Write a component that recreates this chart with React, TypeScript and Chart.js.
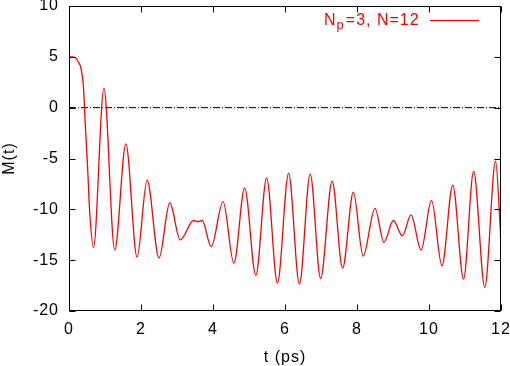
import React, { useEffect, useRef } from 'react';
import { Chart, registerables } from 'chart.js';

Chart.register(...registerables);

// ---- data ----
const times = [
  0, 0.1, 0.2, 0.26, 0.33, 0.4, 0.45, 0.52, 0.57, 0.68,
  0.97, 1.27, 1.58, 1.89, 2.17, 2.5, 2.8, 3.09, 3.46, 3.58,
  3.7, 3.95, 4.28, 4.58, 4.88, 5.19, 5.49, 5.79, 6.1, 6.4,
  6.7, 6.99, 7.31, 7.6, 7.9, 8.17, 8.5, 8.75, 9.01, 9.26,
  9.5, 9.78, 10.07, 10.36, 10.66, 10.96, 11.24, 11.55, 11.85, 11.97,
  12.0,
];
const magnetization = [
  5.0, 5.0, 4.85, 4.5, 3.9, 2.1, -1.5, -6.1, -10.0, -13.75,
  1.93, -14.0, -3.56, -14.7, -7.12, -14.8, -9.35, -13.0, -11.1, -11.2,
  -11.1, -13.66, -9.25, -15.3, -7.88, -16.5, -6.9, -17.25, -6.47, -17.35,
  -6.54, -16.8, -7.22, -15.8, -8.3, -14.6, -9.9, -13.24, -11.1, -12.6,
  -10.55, -14.0, -9.12, -15.55, -7.61, -16.86, -6.27, -17.68, -5.26, -11.3,
  -13.4,
];
const zeroLineT = [0, 12];
const zeroLineV = [0, 0];
const xTicks = [0, 2, 4, 6, 8, 10, 12];
const yTicks = [-20, -15, -10, -5, 0, 5, 10];
const legendMain = 'N';
const legendSub = 'p';
const legendRest = '=3, N=12';
const xTitle = 't (ps)';
const yTitle = 'M(t)';

const FONT = '"Liberation Sans", Arial, Helvetica, sans-serif';
const RED = '#ff0000';

const spacingPlugin = {
  id: 'letterSpacing',
  beforeDraw(chart: any) {
    chart.ctx.letterSpacing = '1px';
  },
};

const framePlugin = {
  id: 'gnuplotFrame',
  afterDatasetsDraw(chart: any) {
    const { ctx, chartArea: a, scales } = chart;
    const xs = scales.x;
    const ys = scales.y;
    const L = Math.round(a.left) + 0.5;
    const R = Math.round(a.right) - 0.5;
    const T = Math.round(a.top) + 0.5;
    const B = Math.round(a.bottom) - 0.5;
    const tl = 6;
    ctx.save();
    ctx.strokeStyle = '#000';
    ctx.lineWidth = 1;
    ctx.beginPath();
    xTicks.forEach((v) => {
      const px = Math.round(xs.getPixelForValue(v)) + 0.5;
      ctx.moveTo(px, B);
      ctx.lineTo(px, B - tl);
      ctx.moveTo(px, T);
      ctx.lineTo(px, T + tl);
    });
    yTicks.forEach((v) => {
      const py = Math.round(ys.getPixelForValue(v)) + 0.5;
      ctx.moveTo(L, py);
      ctx.lineTo(L + tl, py);
      ctx.moveTo(R, py);
      ctx.lineTo(R - tl, py);
    });
    ctx.stroke();
    ctx.strokeRect(L, T, R - L, B - T);

    // legend (gnuplot style, top right, with subscript)
    ctx.letterSpacing = '1px';
    ctx.fillStyle = RED;
    ctx.textBaseline = 'alphabetic';
    ctx.textAlign = 'left';
    let x = 324;
    const base = 25;
    ctx.font = `16px ${FONT}`;
    ctx.fillText(legendMain, x, base);
    x += ctx.measureText(legendMain).width;
    ctx.font = `13px ${FONT}`;
    ctx.fillText(legendSub, x, base + 4);
    x += ctx.measureText(legendSub).width + 1;
    ctx.font = `16px ${FONT}`;
    ctx.fillText(legendRest, x, base);
    ctx.strokeStyle = RED;
    ctx.beginPath();
    ctx.moveTo(430, 20.5);
    ctx.lineTo(479, 20.5);
    ctx.stroke();
    ctx.restore();
  },
};

export default function App() {
  const ref = useRef<HTMLCanvasElement | null>(null);

  useEffect(() => {
    if (!ref.current) return;
    const series = times.map((t, i) => ({ x: t, y: magnetization[i] }));
    const zero = zeroLineT.map((t, i) => ({ x: t, y: zeroLineV[i] }));
    const chart = new Chart(ref.current, {
      type: 'line',
      data: {
        datasets: [
          {
            label: 'N_p=3, N=12',
            data: series,
            borderColor: RED,
            borderWidth: 1.3,
            pointRadius: 0,
            fill: false,
            cubicInterpolationMode: 'monotone',
          },
          {
            label: 'zero',
            data: zero,
            borderColor: '#000',
            borderWidth: 1,
            borderDash: [7, 2, 1, 2],
            pointRadius: 0,
            fill: false,
          },
        ],
      },
      options: {
        responsive: false,
        animation: false,
        devicePixelRatio: 1,
        layout: { padding: { top: 6, right: 9, left: 0, bottom: 0 } },
        plugins: { legend: { display: false }, tooltip: { enabled: false } },
        scales: {
          x: {
            type: 'linear',
            min: 0,
            max: 12,
            afterBuildTicks: (s: any) => {
              s.ticks = xTicks.map((v) => ({ value: v }));
            },
            grid: { display: false, drawTicks: false },
            border: { display: false },
            ticks: {
              font: { family: FONT, size: 16 },
              color: '#000',
              padding: 9,
              maxRotation: 0,
              autoSkip: false,
            },
            title: {
              display: true,
              text: xTitle,
              font: { family: FONT, size: 16, lineHeight: 1 },
              color: '#000',
              padding: { top: 0, bottom: 0 },
            },
            afterFit: (s: any) => {
              s.height = 55;
              s.paddingLeft = 0;
              s.paddingRight = 0;
            },
          },
          y: {
            type: 'linear',
            min: -20,
            max: 10,
            afterBuildTicks: (s: any) => {
              s.ticks = yTicks.map((v) => ({ value: v }));
            },
            grid: { display: false, drawTicks: false },
            border: { display: false },
            ticks: {
              font: { family: FONT, size: 16 },
              color: '#000',
              padding: 10,
              autoSkip: false,
            },
            title: {
              display: true,
              text: yTitle,
              font: { family: FONT, size: 16 },
              color: '#000',
              padding: 0,
            },
            afterFit: (s: any) => {
              s.width = 69;
              s.paddingTop = 0;
              s.paddingBottom = 0;
            },
          },
        },
      },
      plugins: [spacingPlugin, framePlugin],
    });
    return () => chart.destroy();
  }, []);

  return (
    <div style={{ position: 'absolute', left: 0, top: 0, width: 510, height: 366, background: '#fff' }}>
      <canvas ref={ref} width={510} height={366} style={{ display: 'block' }} />
    </div>
  );
}
